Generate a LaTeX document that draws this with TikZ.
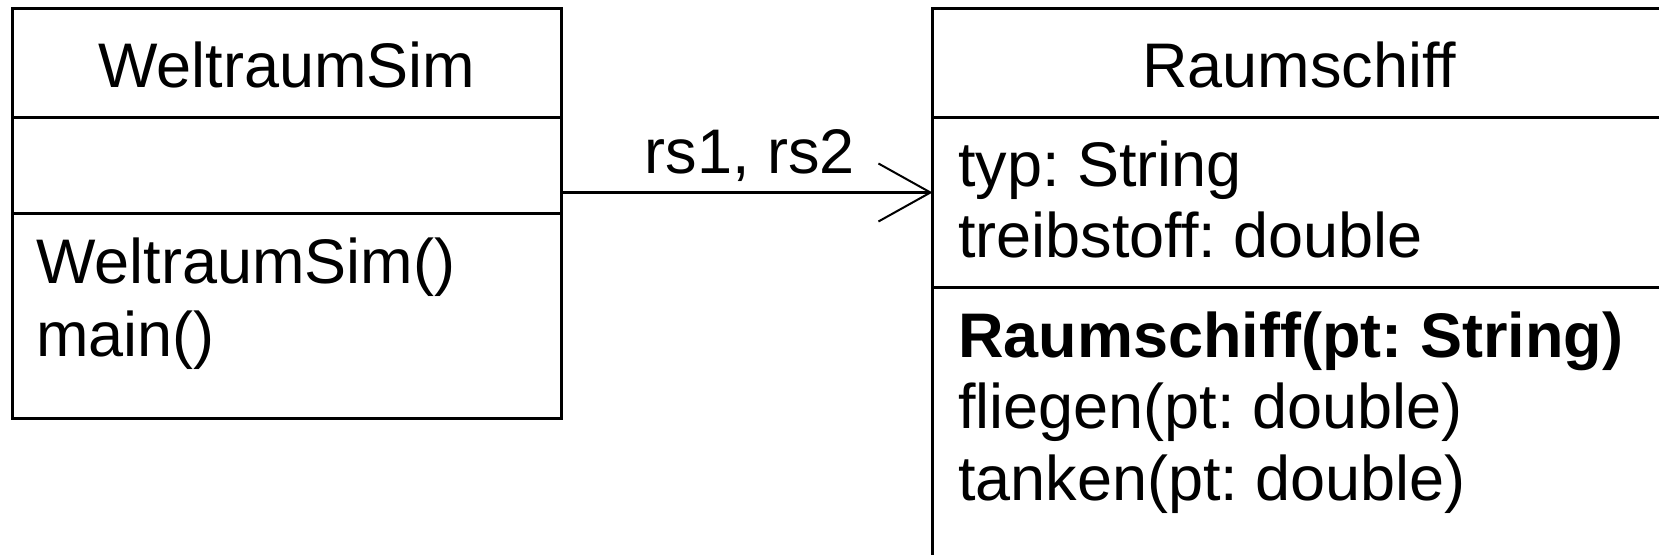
\documentclass[tikz,border=0pt]{standalone}
\usepackage{fontspec}
\setmainfont{Liberation Sans}[Ligatures=CommonOff]
\usetikzlibrary{arrows.meta}
\frenchspacing

\begin{document}
\begin{tikzpicture}[x=1pt, y=-1pt,
                    part/.style = {draw, line width=3pt, inner sep=0pt, outer sep=0pt, anchor=north west},
                    entry/.style = {anchor=base west, inner sep=0pt, font=\fontsize{63}{72}\selectfont},
                    title/.style = {anchor=base, inner sep=0pt, font=\fontsize{63}{72}\selectfont},
                    assoc/.style = {line width=3pt, -{Straight Barb[length=52pt, width=58pt, line width=2pt]}}]
                    \useasboundingbox (0,0) rectangle (1659,554);
                    \clip (0,0) rectangle (1659,554);

                    % WeltraumSim
                    \node[part, minimum width=549pt, minimum height=109pt] (simHead) at (12.5,8.5) {};
                    \node[part, minimum width=549pt, minimum height=96pt] (simAttr) at (simHead.south west) {};
                    \node[part, minimum width=549pt, minimum height=204.5pt] (simOps) at (simAttr.south west) {};
                    \node[title] (simName) at (287,87) {WeltraumSim};
                    \node[entry] (simCtor) at (36,283) {WeltraumSim()};
                    \node[entry] (simMain) at (36,356) {main()};

                    % Raumschiff
                    \node[part, minimum width=733.5pt, minimum height=109pt] (shipHead) at (932.5,8.5) {};
                    \node[part, minimum width=733.5pt, minimum height=170pt] (shipAttr) at (shipHead.south west) {};
                    \node[part, minimum width=733.5pt, minimum height=330pt] (shipOps) at (shipAttr.south west) {};
                    \node[title] (shipName) at (1299,87) {Raumschiff};
                    \node[entry] (shipTyp) at (958,186) {typ: String};
                    \node[entry] (shipFuel) at (958,257) {treibstoff: double};
                    \node[entry] (shipCtor) at (958,357) {\bfseries Raumschiff(pt: String)};
                    \node[entry] (shipFly) at (958,428) {fliegen(pt: double)};
                    \node[entry] (shipTank) at (958,500) {tanken(pt: double)};

                    % association
                    \coordinate (assocFrom) at (561.5,192.5);
                    \draw[assoc] (assocFrom) -- (assocFrom -| shipAttr.west);
                    \node[title] (assocName) at (750,173) {rs1, rs2};
                \end{tikzpicture}
\end{document}
